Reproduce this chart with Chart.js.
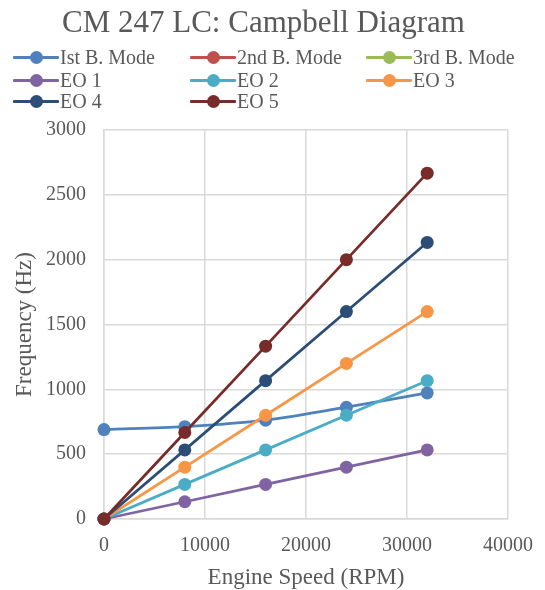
<!DOCTYPE html>
<html>
<head>
<meta charset="utf-8">
<script src="https://cdn.jsdelivr.net/npm/chart.js@4/dist/chart.umd.min.js"></script>
<style>
  html, body { margin: 0; padding: 0; background: #fff; }
  #wrap { position: relative; width: 545px; height: 590px; }
  #chart { position: absolute; left: 0; top: 0; }
  #title { position: absolute; left: 0; top: 3px; width: 527px; text-align: center;
           font-family: "Liberation Serif", "Times New Roman", serif; font-size: 31px; line-height: 37px;
           color: #595959; white-space: nowrap; }
  #legend { position: absolute; left: 0; top: 0; width: 545px; height: 120px;
            font-family: "Liberation Serif", "Times New Roman", serif; font-size: 20px; color: #595959; }
  .item { position: absolute; display: flex; align-items: center; height: 22px; white-space: nowrap; }
  .sw { position: relative; width: 46px; height: 22px; margin-right: 1px; flex: none; }
  .sw .ln { position: absolute; left: 0; right: 0; top: 9.5px; height: 3px; border-radius: 1px; }
  .sw .dot { position: absolute; left: 16.5px; top: 4.5px; width: 13px; height: 13px; border-radius: 50%; }
</style>
</head>
<body>
<div id="wrap">
  <canvas id="chart" width="545" height="590"></canvas>
  <div id="title">CM 247 LC: Campbell Diagram</div>
  <div id="legend"></div>
</div>
<script>
// Engine speeds (RPM) at which each curve is sampled
const speeds = [0, 8000, 16000, 24000, 32000];

// Natural bending modes (Hz)
const firstBend = [690, 712, 762, 862, 972];
const secondBend = [];
const thirdBend = [];

// Engine-order excitation lines (Hz)
const eo1 = [0, 133, 267, 400, 533];
const eo2 = [0, 267, 533, 800, 1067];
const eo3 = [0, 400, 800, 1200, 1600];
const eo4 = [0, 533, 1067, 1600, 2133];
const eo5 = [0, 667, 1333, 2000, 2667];

const seriesNames = ['Ist B. Mode', '2nd B. Mode', '3rd B. Mode', 'EO 1', 'EO 2', 'EO 3', 'EO 4', 'EO 5'];
const seriesValues = [firstBend, secondBend, thirdBend, eo1, eo2, eo3, eo4, eo5];
const seriesColors = ['#4F81BD', '#C0504D', '#9BBB59', '#8064A2', '#4BACC6', '#F79646', '#2C4D75', '#772C2A'];

const xTicks = [0, 10000, 20000, 30000, 40000];
const yTicks = [0, 500, 1000, 1500, 2000, 2500, 3000];

const serif = '"Liberation Serif", "Times New Roman", serif';
const textColor = '#595959';
const gridColor = '#D9D9D9';

const datasets = seriesValues.map((vals, i) => ({
  label: seriesNames[i],
  data: vals.map((v, j) => ({ x: speeds[j], y: v })),
  borderColor: seriesColors[i],
  backgroundColor: seriesColors[i],
  borderWidth: 2.75,
  pointRadius: 6.5,
  pointHoverRadius: 6.5,
  pointBorderWidth: 0,
  tension: i === 0 ? 0.35 : 0,
  order: -i,
  clip: false
}));

new Chart(document.getElementById('chart'), {
  type: 'line',
  data: { datasets },
  options: {
    responsive: false,
    animation: false,
    layout: { padding: { top: 130, left: 0, right: 37, bottom: 0 } },
    plugins: {
      legend: { display: false },
      tooltip: { enabled: false },
      title: { display: false }
    },
    scales: {
      x: {
        type: 'linear',
        min: 0, max: 40000,
        afterBuildTicks: s => { s.ticks = xTicks.map(v => ({ value: v })); },
        afterFit: s => { s.height = 71; s.paddingLeft = 0; s.paddingRight = 0; },
        grid: { color: gridColor, lineWidth: 1.5, drawTicks: false },
        border: { color: gridColor, width: 1.5 },
        ticks: { color: textColor, font: { family: serif, size: 20 }, padding: 15, maxRotation: 0,
                 callback: v => String(v) },
        title: { display: true, text: 'Engine Speed (RPM)', color: textColor,
                 font: { family: serif, size: 23 }, padding: { top: 0, bottom: -2 } }
      },
      y: {
        type: 'linear',
        min: 0, max: 3000,
        afterBuildTicks: s => { s.ticks = yTicks.map(v => ({ value: v })); },
        afterFit: s => { s.width = 104; },
        grid: { color: gridColor, lineWidth: 1.5, drawTicks: false },
        border: { color: gridColor, width: 1.5 },
        ticks: { color: textColor, font: { family: serif, size: 20 }, padding: 18,
                 callback: v => String(v) },
        title: { display: true, text: 'Frequency (Hz)', color: textColor,
                 font: { family: serif, size: 23 }, padding: { top: 11, bottom: 0 } }
      }
    }
  }
});

// Three-column legend built from the same series definitions
const legend = document.getElementById('legend');
const colX = [13, 190, 366];
const rowY = [46, 69, 90];
seriesNames.forEach((name, i) => {
  const item = document.createElement('div');
  item.className = 'item';
  item.style.left = colX[i % 3] + 'px';
  item.style.top = rowY[Math.floor(i / 3)] + 'px';
  item.innerHTML = '<span class="sw"><span class="ln" style="background:' + seriesColors[i] +
    '"></span><span class="dot" style="background:' + seriesColors[i] + '"></span></span>';
  const label = document.createElement('span');
  label.textContent = name;
  item.appendChild(label);
  legend.appendChild(item);
});
</script>
</body>
</html>
